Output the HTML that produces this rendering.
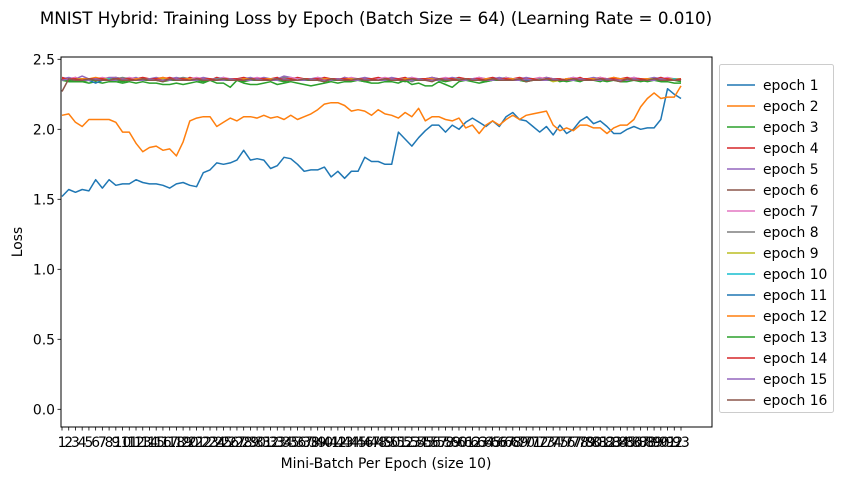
<!DOCTYPE html>
<html><head><meta charset="utf-8"><style>
html,body{margin:0;padding:0;background:#fff;}
svg{display:block;font-family:"DejaVu Sans","Liberation Sans",sans-serif;}
</style></head><body>
<svg id="chart" width="843" height="480" viewBox="0 0 843 480" xmlns="http://www.w3.org/2000/svg">
<text x="376" y="24" text-anchor="middle" font-size="16.7" fill="#000">MNIST Hybrid: Training Loss by Epoch (Batch Size = 64) (Learning Rate = 0.010)</text>
<text x="386" y="468" text-anchor="middle" font-size="13.9" fill="#000">Mini-Batch Per Epoch (size 10)</text>
<text transform="translate(22,242) rotate(-90)" text-anchor="middle" font-size="13.9" fill="#000">Loss</text>
<g id="plot"></g>
<g id="legend"></g>
</svg>
<script>
const epochLabels=["epoch 1","epoch 2","epoch 3","epoch 4","epoch 5","epoch 6","epoch 7","epoch 8","epoch 9","epoch 10","epoch 11","epoch 12","epoch 13","epoch 14","epoch 15","epoch 16"];
const yTicks=[0.0,0.5,1.0,1.5,2.0,2.5];
const epoch1=[1.52,1.57,1.55,1.57,1.56,1.64,1.58,1.64,1.60,1.61,1.61,1.64,1.62,1.61,1.61,1.60,1.58,1.61,1.62,1.60,1.59,1.69,1.71,1.76,1.75,1.76,1.78,1.85,1.78,1.79,1.78,1.72,1.74,1.80,1.79,1.75,1.70,1.71,1.71,1.73,1.66,1.70,1.65,1.70,1.70,1.80,1.77,1.77,1.75,1.75,1.98,1.93,1.88,1.94,1.99,2.03,2.03,1.98,2.03,2.00,2.05,2.08,2.05,2.02,2.06,2.02,2.09,2.12,2.07,2.06,2.02,1.98,2.02,1.96,2.03,1.97,2.00,2.06,2.09,2.04,2.06,2.02,1.97,1.97,2.00,2.02,2.00,2.01,2.01,2.07,2.29,2.25,2.22];
const epoch2=[2.10,2.11,2.05,2.02,2.07,2.07,2.07,2.07,2.05,1.98,1.98,1.90,1.84,1.87,1.88,1.85,1.86,1.81,1.91,2.06,2.08,2.09,2.09,2.02,2.05,2.08,2.06,2.09,2.09,2.08,2.10,2.08,2.09,2.07,2.10,2.07,2.09,2.11,2.14,2.18,2.19,2.19,2.17,2.13,2.14,2.13,2.10,2.14,2.11,2.10,2.08,2.12,2.09,2.15,2.06,2.09,2.09,2.07,2.06,2.08,2.01,2.03,1.97,2.03,2.06,2.03,2.07,2.10,2.07,2.10,2.11,2.12,2.13,2.03,1.99,2.01,1.99,2.03,2.03,2.01,2.01,1.97,2.01,2.03,2.03,2.07,2.16,2.22,2.26,2.22,2.23,2.23,2.31];
const epoch3="35 34 34 34 33 34 33 34 34 33 34 33 34 33 33 32 32 33 32 33 34 33 35 33 33 30 35 33 32 32 33 34 32 33 34 33 32 31 32 33 34 33 34 34 35 34 33 33 34 34 33 35 32 33 31 31 34 32 30 34 35 34 33 34 35 36 37 36 35 34 36 35 35 36 34 35 35 34 36 35 34 36 35 34 34 35 34 35 35 34 34 33 33";
const epoch4="37 36 37 35 36 36 35 36 37 36 35 36 37 36 35 36 37 36 35 37 36 36 35 37 36 35 36 37 36 35 36 36 37 35 36 37 36 35 36 37 36 35 37 36 36 35 36 37 36 35 36 37 35 36 36 37 36 35 36 37 36 35 36 36 37 36 35 36 37 36 35 36 37 36 35 36 36 37 35 36 37 36 35 36 37 36 36 35 36 37 36 35 36";
const epoch5="36 37 36 38 36 35 36 37 37 36 36 37 35 36 37 36 36 37 36 35 36 37 36 36 37 35 36 36 37 36 37 36 36 38 37 36 35 36 37 36 36 35 37 36 36 37 36 35 36 37 36 36 37 35 36 37 36 36 37 36 35 36 37 36 36 37 36 35 36 37 36 36 37 36 35 36 37 36 36 37 36 35 37 36 36 37 36 36 37 36 35 36 36";
const epoch6="36 35 36 36 35 36 35 36 36 35 36 36 35 36 35 35 36 36 35 36 35 36 36 35 36 36 35 36 35 36 36 35 36 36 35 36 35 36 36 35 36 36 35 36 35 36 36 35 36 36 35 36 35 36 36 35 36 36 35 36 35 36 36 35 36 36 35 36 35 36 36 35 36 36 35 36 35 36 36 35 36 36 35 36 35 36 36 35 36 36 35 36 35";
const epoch7="36 36 37 35 36 36 37 36 35 36 37 36 36 35 36 37 36 36 35 36 37 36 36 35 37 36 36 35 36 37 36 36 35 36 37 36 36 35 37 36 36 35 36 37 36 36 35 36 37 36 36 35 37 36 36 35 36 37 36 36 35 36 37 36 36 35 37 36 36 35 36 37 36 36 35 36 37 36 36 35 37 36 36 35 36 37 36 36 35 36 37 36 36";
const epoch8="35 36 35 36 36 35 36 35 36 37 36 35 36 35 36 36 35 36 37 36 35 36 35 36 36 35 36 35 36 36 35 36 35 37 36 35 36 35 36 36 35 36 35 36 36 35 36 35 36 36 35 36 34 36 36 35 36 35 36 36 35 36 35 36 36 35 36 35 36 36 35 36 35 36 36 35 36 35 36 36 35 36 35 36 36 35 36 35 36 36 35 36 35";
const epoch9="36 35 36 36 36 35 36 36 35 36 36 35 36 36 35 36 36 35 36 36 35 36 36 35 36 36 35 36 36 35 36 36 35 36 36 35 36 36 35 36 36 35 36 36 35 36 36 35 36 36 35 36 36 35 36 36 35 36 36 35 36 36 35 36 36 35 36 36 35 36 36 35 36 34 35 36 36 35 36 36 35 36 36 35 36 36 35 36 36 35 36 36 36";
const epoch10="35 36 35 35 36 35 35 36 35 35 36 35 35 36 35 35 36 35 35 36 35 35 36 35 35 36 35 35 36 35 35 36 35 35 36 35 35 36 35 35 36 35 35 36 35 35 36 35 35 36 35 35 36 35 35 36 35 35 36 35 35 36 35 35 36 35 35 36 35 35 36 35 35 36 35 35 36 35 35 36 35 35 36 35 35 36 35 35 36 35 35 36 35";
const epoch11="36 35 35 35 35 33 35 35 36 35 35 35 35 35 35 35 36 35 35 35 35 35 35 35 36 35 35 35 35 35 35 35 36 35 35 35 35 35 35 35 36 35 35 35 35 35 35 35 36 35 35 35 35 35 35 35 36 35 35 35 35 35 35 35 36 35 35 35 35 35 35 35 36 35 35 35 35 35 35 35 36 35 35 35 35 35 35 35 36 35 35 35 35";
const epoch12="36 36 35 36 36 37 36 35 36 36 35 36 36 35 36 37 36 35 36 36 35 36 36 35 36 36 35 36 36 35 36 36 35 36 36 35 36 36 35 36 36 35 36 36 35 36 36 35 36 36 35 36 36 35 36 36 35 36 36 35 36 36 35 36 36 35 36 36 35 36 36 35 36 36 35 36 36 35 36 36 35 36 37 36 36 35 36 36 35 36 36 35 36";
const epoch13="35 35 35 34 35 35 35 35 35 34 35 35 35 35 35 34 35 35 35 35 35 34 35 35 35 35 35 34 35 35 35 35 35 34 35 35 35 35 35 34 35 35 35 35 35 34 35 35 35 35 35 34 35 35 35 35 35 34 35 35 35 35 35 34 35 35 35 35 35 34 35 35 35 35 35 34 35 35 35 35 35 34 35 35 35 35 35 34 35 35 35 35 34";
const epoch14="36 36 36 35 36 36 36 35 36 36 36 35 36 36 36 35 36 36 36 35 36 36 36 35 36 36 36 35 36 36 36 35 36 36 36 35 36 36 36 35 36 36 36 35 36 36 36 35 36 36 36 35 36 36 36 35 36 36 36 35 36 36 36 35 36 36 36 35 36 36 36 35 36 36 36 35 36 36 36 35 36 36 36 35 36 36 36 35 36 36 36 35 36";
const epoch15="35 36 35 35 35 36 35 35 35 36 35 35 35 36 35 35 35 36 35 35 35 36 35 35 35 36 35 35 35 36 35 35 35 36 35 35 35 36 35 35 35 36 35 35 35 36 35 35 35 36 35 35 35 36 35 35 35 36 35 35 35 36 35 35 35 36 35 35 35 36 35 35 35 36 35 35 35 36 35 35 35 36 35 35 35 36 35 35 35 36 35 35 35";
const epoch16="27 36 35 35 36 35 35 35 36 35 35 35 36 35 35 34 36 35 35 35 36 35 35 35 36 35 35 35 36 35 35 35 36 35 35 35 36 35 35 34 36 35 35 35 36 35 35 35 36 35 35 35 36 35 35 34 36 35 35 35 36 35 35 35 36 35 35 35 36 34 35 35 36 35 35 35 36 35 35 35 36 35 35 34 36 35 35 35 36 35 35 35 35";
const colors=["#1f77b4","#ff7f0e","#2ca02c","#d62728","#9467bd","#8c564b","#e377c2","#7f7f7f","#bcbd22","#17becf"];
const parseH=s=>s.trim().split(/\s+/).map(v=>2+Number(v)/100);
const series=[epoch1,epoch2].concat([epoch3,epoch4,epoch5,epoch6,epoch7,epoch8,epoch9,epoch10,epoch11,epoch12,epoch13,epoch14,epoch15,epoch16].map(parseH));
const NS="http://www.w3.org/2000/svg";
const L=61,R=712,T=57,B=427;
const nPts=93;
const xPx=i=>62+i*(681-62)/(nPts-1);
const yPx=v=>409.3-v*140;
const plot=document.getElementById('plot');
function mk(tag,attrs,parent){const e=document.createElementNS(NS,tag);for(const k in attrs)e.setAttribute(k,attrs[k]);parent.appendChild(e);return e;}
series.forEach((s,k)=>{
  const p=mk('polyline',{points:s.map((v,i)=>xPx(i).toFixed(2)+','+yPx(v).toFixed(2)).join(' '),fill:'none',stroke:colors[k%10],'stroke-width':1.5,'stroke-linejoin':'round'},plot);
  
  
});
const fr=mk('rect',{x:L,y:T,width:R-L,height:B-T,fill:'none',stroke:'#000','stroke-width':1},plot);


yTicks.forEach(v=>{
  const y=yPx(v);
  const t=mk('line',{x1:L-3.5,x2:L,y1:y,y2:y,stroke:'#000','stroke-width':0.8},plot);
  
  
  const tx=mk('text',{x:L-6,y:y+5,'text-anchor':'end','font-size':13.9,fill:'#000'},plot);
  tx.textContent=v.toFixed(1);
  
  
});
for(let i=0;i<nPts;i++){
  const x=xPx(i);
  const t=mk('line',{x1:x,x2:x,y1:B,y2:B+3.5,stroke:'#000','stroke-width':0.8},plot);
  
  
  const tx=mk('text',{x:x,y:447,'text-anchor':'middle','font-size':13.9,fill:'#000'},plot);
  tx.textContent=String(i+1);
  
  
}
const lg=document.getElementById('legend');
const box=mk('rect',{x:719.5,y:64.5,width:114,height:348,rx:2,fill:'#fff',stroke:'#ccc','stroke-width':1},lg);


epochLabels.forEach((lab,k)=>{
  const y=85+k*21;
  const g=mk('g',{},lg);
  
  
  mk('line',{x1:727,x2:755,y1:y,y2:y,stroke:colors[k%10],'stroke-width':1.5},g);
  const tx=mk('text',{x:763,y:y+5,'font-size':13.9,fill:'#000'},g);
  tx.textContent=lab;
});
</script>
</body></html>
